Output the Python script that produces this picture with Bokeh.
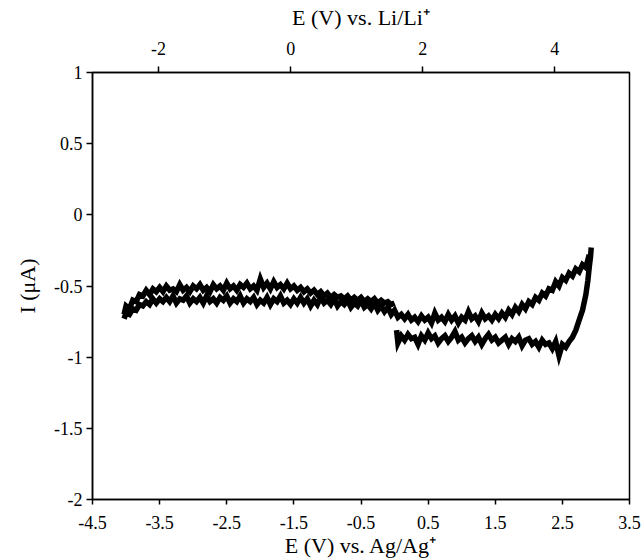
from bokeh.plotting import figure
from bokeh.models import LinearAxis, Range1d, FixedTicker
from bokeh.embed import file_html
from bokeh.resources import INLINE

# ---------------- data ----------------
# Sweep 1: forward scan from ~0 V to the anodic limit (lower branch)
e_fwd = [0.03, 0.05, 0.10, 0.15, 0.20, 0.25, 0.30, 0.35, 0.40, 0.45, 0.50, 0.55,
         0.60, 0.65, 0.70, 0.75, 0.80, 0.85, 0.90, 0.95, 1.00, 1.05, 1.10, 1.15,
         1.20, 1.25, 1.30, 1.35, 1.40, 1.45, 1.50, 1.55, 1.60, 1.65, 1.70, 1.75,
         1.80, 1.85, 1.90, 1.95, 2.00, 2.05, 2.10, 2.15, 2.20, 2.25, 2.30, 2.35,
         2.40, 2.45, 2.50, 2.55, 2.60, 2.65, 2.70, 2.75, 2.80, 2.85, 2.88, 2.90,
         2.92, 2.93]
i_fwd = [-0.81, -0.90, -0.85, -0.88, -0.84, -0.87, -0.86, -0.91, -0.85, -0.88, -0.83, -0.87,
         -0.85, -0.90, -0.87, -0.85, -0.89, -0.86, -0.82, -0.88, -0.86, -0.90, -0.87, -0.85,
         -0.89, -0.86, -0.91, -0.87, -0.84, -0.88, -0.86, -0.90, -0.88, -0.86, -0.91, -0.87,
         -0.89, -0.86, -0.92, -0.88, -0.87, -0.91, -0.89, -0.93, -0.88, -0.91, -0.90, -0.94,
         -0.89, -0.99, -0.91, -0.93, -0.89, -0.86, -0.81, -0.74, -0.67, -0.56, -0.46, -0.37,
         -0.29, -0.23]

# Sweep 2: reverse scan from the anodic limit down to the cathodic limit
e_rev = [2.90, 2.85, 2.80, 2.75, 2.70, 2.65, 2.60, 2.55, 2.50, 2.45, 2.40, 2.35,
         2.30, 2.25, 2.20, 2.15, 2.10, 2.05, 2.00, 1.95, 1.90, 1.85, 1.80, 1.75,
         1.70, 1.65, 1.60, 1.55, 1.50, 1.45, 1.40, 1.35, 1.30, 1.25, 1.20, 1.15,
         1.10, 1.05, 1.00, 0.95, 0.90, 0.85, 0.80, 0.75, 0.70, 0.65, 0.60, 0.55,
         0.50, 0.45, 0.40, 0.35, 0.30, 0.25, 0.20, 0.15, 0.10, 0.05, 0.00,
         -0.05, -0.10, -0.15, -0.20, -0.25, -0.30, -0.35, -0.40, -0.45, -0.50,
         -0.55, -0.60, -0.65, -0.70, -0.75, -0.80, -0.85, -0.90, -0.95, -1.00,
         -1.05, -1.10, -1.15, -1.20, -1.25, -1.30, -1.35, -1.40, -1.45, -1.50,
         -1.55, -1.60, -1.65, -1.70, -1.75, -1.80, -1.85, -1.90, -1.95, -2.00,
         -2.05, -2.10, -2.15, -2.20, -2.25, -2.30, -2.35, -2.40, -2.45, -2.50,
         -2.55, -2.60, -2.65, -2.70, -2.75, -2.80, -2.85, -2.90, -2.95, -3.00,
         -3.05, -3.10, -3.15, -3.20, -3.25, -3.30, -3.35, -3.40, -3.45, -3.50,
         -3.55, -3.60, -3.65, -3.70, -3.75, -3.80, -3.85, -3.90, -3.95, -4.00,
         -4.03]
i_rev = [-0.28, -0.37, -0.35, -0.40, -0.38, -0.43, -0.41, -0.46, -0.44, -0.50, -0.47, -0.53,
         -0.52, -0.57, -0.55, -0.60, -0.58, -0.63, -0.61, -0.66, -0.63, -0.68, -0.65, -0.70,
         -0.67, -0.72, -0.69, -0.73, -0.70, -0.74, -0.71, -0.73, -0.69, -0.75, -0.71, -0.73,
         -0.68, -0.74, -0.72, -0.76, -0.71, -0.74, -0.70, -0.75, -0.72, -0.74, -0.69, -0.76,
         -0.72, -0.74, -0.71, -0.75, -0.72, -0.74, -0.70, -0.73, -0.70, -0.72, -0.67,
         -0.70, -0.65, -0.68, -0.64, -0.67, -0.62, -0.66, -0.63, -0.65, -0.60,
         -0.64, -0.62, -0.65, -0.60, -0.63, -0.61, -0.64, -0.59, -0.63, -0.60,
         -0.62, -0.58, -0.63, -0.60, -0.64, -0.59, -0.62, -0.58, -0.62, -0.59,
         -0.63, -0.60, -0.62, -0.57, -0.61, -0.59, -0.63, -0.58, -0.62, -0.60,
         -0.63, -0.58, -0.61, -0.59, -0.62, -0.57, -0.61, -0.59, -0.62, -0.57,
         -0.60, -0.58, -0.62, -0.59, -0.61, -0.57, -0.62, -0.58, -0.61, -0.59,
         -0.62, -0.57, -0.60, -0.59, -0.62, -0.57, -0.61, -0.58, -0.61, -0.59,
         -0.62, -0.59, -0.63, -0.61, -0.64, -0.63, -0.67, -0.66, -0.70, -0.69,
         -0.73]

# Sweep 3: forward scan from the cathodic limit back to ~0 V
e_ret = [-4.03, -4.00, -3.95, -3.90, -3.85, -3.80, -3.75, -3.70, -3.65, -3.60, -3.55,
         -3.50, -3.45, -3.40, -3.35, -3.30, -3.25, -3.20, -3.15, -3.10, -3.05,
         -3.00, -2.95, -2.90, -2.85, -2.80, -2.75, -2.70, -2.65, -2.60, -2.55,
         -2.50, -2.45, -2.40, -2.35, -2.30, -2.25, -2.20, -2.15, -2.10, -2.05,
         -2.00, -1.95, -1.90, -1.85, -1.80, -1.75, -1.70, -1.65, -1.60, -1.55,
         -1.50, -1.45, -1.40, -1.35, -1.30, -1.25, -1.20, -1.15, -1.10, -1.05,
         -1.00, -0.95, -0.90, -0.85, -0.80, -0.75, -0.70, -0.65, -0.60, -0.55,
         -0.50, -0.45, -0.40, -0.35, -0.30, -0.25, -0.20, -0.15, -0.10, -0.05,
         0.00]
i_ret = [-0.70, -0.64, -0.66, -0.60, -0.61, -0.56, -0.57, -0.53, -0.56, -0.52, -0.54,
         -0.51, -0.54, -0.50, -0.53, -0.52, -0.54, -0.49, -0.53, -0.51, -0.54,
         -0.50, -0.52, -0.49, -0.53, -0.51, -0.54, -0.49, -0.52, -0.50, -0.53,
         -0.48, -0.52, -0.50, -0.53, -0.49, -0.51, -0.48, -0.52, -0.50, -0.53,
         -0.45, -0.51, -0.48, -0.52, -0.47, -0.51, -0.49, -0.52, -0.48, -0.52,
         -0.50, -0.53, -0.51, -0.54, -0.52, -0.55, -0.53, -0.56, -0.54, -0.57,
         -0.55, -0.58, -0.56, -0.58, -0.57, -0.59, -0.57, -0.60, -0.58, -0.60,
         -0.58, -0.61, -0.59, -0.61, -0.59, -0.62, -0.60, -0.62, -0.61, -0.63,
         -0.62]

x_ticks = [-4.5, -3.5, -2.5, -1.5, -0.5, 0.5, 1.5, 2.5, 3.5]
x_tick_labels = ["-4.5", "-3.5", "-2.5", "-1.5", "-0.5", "0.5", "1.5", "2.5", "3.5"]
y_ticks = [-2, -1.5, -1, -0.5, 0, 0.5, 1]
y_tick_labels = ["-2", "-1.5", "-1", "-0.5", "0", "0.5", "1"]
top_ticks = [-2, 0, 2, 4]
top_tick_labels = ["-2", "0", "2", "4"]

x_title = "E (V) vs. Ag/Ag\u207a"
top_title = "E (V) vs. Li/Li\u207a"
y_title = "I (\u03bcA)"

# ---------------- figure ----------------
FONT = "Liberation Serif"
TICK_FS = "18px"
TITLE_FS = "22px"

p = figure(width=642, height=560, output_backend="svg", toolbar_location=None,
           x_range=Range1d(-4.5, 3.5), y_range=Range1d(-2, 1),
           x_axis_location=None, y_axis_location=None,
           min_border_left=92, min_border_right=13, min_border_top=72, min_border_bottom=61)
p.xgrid.visible = False
p.ygrid.visible = False
p.outline_line_color = "black"
p.outline_line_width = 1.5
p.background_fill_color = "white"
p.border_fill_color = "white"
p.extra_x_ranges = {"li": Range1d(-3.0, 5.13)}


def style(ax, title, ticks, labels, tick_out, label_standoff, title_standoff):
    ax.ticker = FixedTicker(ticks=ticks)
    ax.major_label_overrides = {t: l for t, l in zip(ticks, labels)}
    ax.minor_tick_line_color = None
    ax.major_tick_in = 0
    ax.major_tick_out = tick_out
    ax.axis_line_color = "black"
    ax.axis_line_width = 1.5
    ax.major_tick_line_color = "black"
    ax.major_tick_line_width = 1.5
    ax.major_label_text_font = FONT
    ax.major_label_text_font_size = TICK_FS
    ax.major_label_text_color = "black"
    ax.major_label_standoff = label_standoff
    ax.axis_label = title
    ax.axis_label_text_font = FONT
    ax.axis_label_text_font_size = TITLE_FS
    ax.axis_label_text_font_style = "normal"
    ax.axis_label_text_color = "black"
    ax.axis_label_standoff = title_standoff


xb = LinearAxis()
style(xb, x_title, x_ticks, x_tick_labels, 5, 11, 1)
p.add_layout(xb, "below")

xt = LinearAxis(x_range_name="li")
style(xt, top_title, top_ticks, top_tick_labels, 6, 12, 9)
p.add_layout(xt, "above")

yl = LinearAxis()
style(yl, y_title, y_ticks, y_tick_labels, 6, 4, 11)
p.add_layout(yl, "left")

for ex, iy in ((e_fwd, i_fwd), (e_rev, i_rev), (e_ret, i_ret)):
    p.line(ex, iy, line_color="black", line_width=5.5, line_join="miter")

open("out.html", "w").write(file_html(p, INLINE))
